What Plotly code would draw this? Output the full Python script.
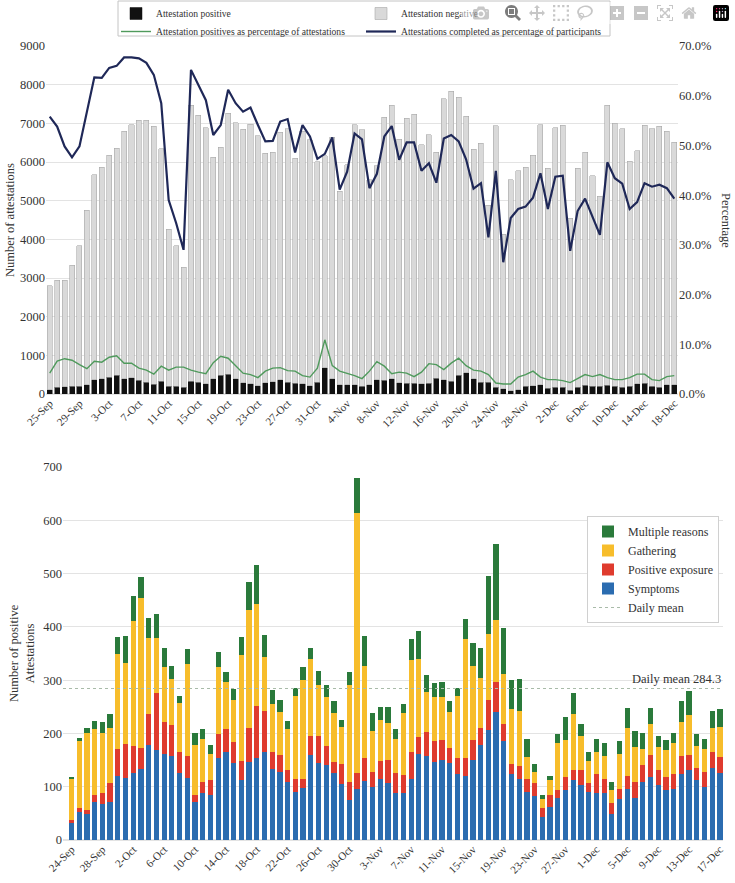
import pandas as pd
import plotly.graph_objects as go

# ---- top panel: daily attestations (25-Sep .. 18-Dec) ----
top_days = pd.date_range('2020-09-25', periods=85).strftime('%-d-%b').tolist()

att_positive = [110, 170, 190, 205, 205, 235, 370, 390, 430, 480, 395, 420, 360, 310, 250, 335, 200, 200, 170, 335,
                300, 265, 390, 480, 505, 390, 285, 265, 215, 285, 320, 370, 300, 275, 260, 215, 300, 680, 390, 240,
                240, 240, 200, 240, 370, 360, 390, 295, 275, 275, 260, 275, 405, 370, 335, 490, 550, 390, 300, 300,
                170, 140, 80, 110, 200, 215, 240, 155, 170, 170, 95, 170, 225, 200, 200, 225, 200, 170, 200, 260,
                275, 200, 180, 240, 240]
att_negative = [2690, 2770, 2750, 3125, 3635, 4515, 5300, 5480, 5750, 5880, 6405, 6540, 6720, 6770, 6670, 6005, 4060,
                3640, 3110, 7135, 6910, 6615, 5730, 5900, 6755, 6630, 6565, 6715, 6465, 5945, 5930, 6400, 6560, 5825,
                6540, 6355, 5710, 5480, 6250, 5000, 5690, 6720, 6630, 5300, 5530, 6800, 7080, 6295, 6855, 6965, 6180,
                6425, 5845, 7270, 7495, 7180, 6630, 5940, 6190, 4580, 6770, 3990, 5460, 5660, 5660, 5955, 6720, 5685,
                6710, 6780, 4455, 5670, 6025, 5450, 4910, 7245, 6800, 6690, 5820, 6030, 6675, 6660, 6740, 6560, 6270]
pct_positive = [4.2, 6.6, 7.1, 6.8, 5.9, 5.1, 6.6, 6.4, 7.4, 7.7, 6.2, 6.2, 5.2, 4.8, 4.0, 5.6, 4.8, 5.4, 5.4, 4.8,
                4.4, 4.1, 6.3, 7.6, 7.2, 5.6, 4.2, 3.9, 3.3, 4.6, 5.2, 5.3, 4.7, 4.6, 3.7, 3.4, 5.2, 10.9, 5.7, 4.6,
                4.2, 3.7, 3.1, 4.6, 6.5, 5.6, 4.1, 4.4, 4.2, 3.5, 4.4, 6.1, 5.9, 4.9, 6.2, 7.2, 5.7, 4.8, 4.6, 3.9,
                2.2, 2.0, 2.0, 3.4, 3.9, 4.6, 3.4, 2.9, 2.9, 2.7, 2.3, 3.1, 3.9, 3.5, 3.9, 3.3, 2.9, 2.9, 3.3, 4.0,
                4.0, 2.9, 2.7, 3.5, 3.7]
pct_completed = [55.8, 53.8, 49.8, 47.6, 49.8, 56.5, 63.7, 63.6, 65.6, 66.0, 67.7, 67.7, 67.5, 66.6, 64.2, 58.5, 39.0,
                 34.4, 29.0, 65.2, 62.2, 59.1, 52.1, 54.1, 61.2, 58.5, 56.8, 57.6, 54.1, 50.8, 50.9, 54.8, 55.3, 48.6,
                 54.1, 51.8, 47.3, 48.3, 51.6, 41.1, 44.7, 52.4, 51.2, 41.4, 44.3, 51.8, 53.9, 47.1, 50.6, 50.6, 44.9,
                 46.4, 42.5, 51.4, 52.1, 50.8, 47.2, 41.3, 42.4, 31.5, 44.9, 26.5, 35.4, 37.2, 37.7, 39.5, 44.4, 37.2,
                 43.7, 43.9, 28.8, 36.8, 39.3, 35.7, 32.0, 46.6, 43.4, 42.3, 37.2, 38.6, 42.4, 41.7, 42.1, 41.4, 39.3]

# ---- bottom panel: positive attestations by reason (24-Sep .. 17-Dec) ----
bot_days = pd.date_range('2020-09-24', periods=85).strftime('%-d-%b').tolist()

symptoms = [32, 52, 48, 71, 68, 71, 121, 116, 126, 133, 179, 168, 162, 157, 126, 116, 71, 88, 85, 154,
            166, 144, 113, 146, 153, 166, 134, 128, 109, 90, 98, 159, 144, 141, 126, 106, 76, 96, 110, 99,
            114, 107, 88, 88, 114, 162, 157, 147, 151, 144, 124, 121, 151, 178, 207, 240, 185, 123, 114, 90,
            83, 43, 62, 78, 94, 112, 104, 90, 88, 88, 49, 77, 96, 79, 109, 119, 103, 93, 96, 124,
            132, 112, 99, 136, 126]
positive_exposure = [6, 8, 8, 14, 20, 36, 50, 65, 50, 40, 58, 107, 59, 58, 40, 41, 14, 21, 28, 45,
                     42, 40, 36, 64, 98, 77, 31, 32, 23, 25, 17, 37, 52, 36, 20, 37, 33, 30, 43, 29,
                     35, 44, 38, 34, 52, 32, 46, 38, 36, 29, 29, 32, 36, 33, 56, 56, 33, 20, 24, 24,
                     24, 18, 23, 16, 25, 20, 27, 17, 36, 26, 20, 19, 25, 29, 32, 41, 29, 26, 28, 33,
                     28, 24, 29, 29, 29]
gathering = [76, 125, 145, 123, 113, 104, 179, 152, 235, 281, 143, 105, 104, 87, 92, 173, 94, 80, 49, 126,
             88, 78, 199, 222, 192, 100, 91, 81, 77, 155, 186, 144, 94, 91, 92, 70, 181, 488, 174, 76,
             76, 69, 64, 116, 172, 146, 75, 83, 81, 68, 118, 224, 140, 93, 124, 117, 94, 103, 105, 41,
             21, 16, 27, 88, 69, 105, 65, 41, 42, 43, 25, 66, 89, 66, 30, 58, 42, 49, 58, 64,
             74, 40, 43, 45, 58]
multiple_reasons = [5, 6, 9, 16, 20, 25, 31, 49, 47, 40, 37, 45, 36, 24, 12, 28, 21, 19, 17, 28,
                    19, 21, 33, 53, 73, 41, 25, 21, 15, 16, 23, 20, 28, 23, 22, 12, 26, 65, 56, 34,
                    24, 29, 19, 17, 40, 52, 32, 27, 28, 19, 14, 38, 43, 56, 108, 142, 86, 54, 59, 34,
                    15, 8, 9, 16, 42, 39, 22, 18, 24, 25, 15, 23, 37, 30, 30, 29, 22, 19, 19, 40,
                    45, 22, 18, 33, 33]
daily_mean = 284.3

FONT = 'Liberation Serif'
GRID = '#e3e3e3'
TXT = '#333333'

fig = go.Figure()

# top legend is split over two single-row legends framed by one box
fig.add_trace(go.Bar(x=top_days, y=att_positive, name='Attestation positive',
                     marker=dict(color='#111111', line=dict(color='#111111', width=0.5)),
                     xaxis='x', yaxis='y', legend='legend'))
fig.add_trace(go.Bar(x=top_days, y=att_negative, name='Attestation negative',
                     marker=dict(color='#d9d9d9', line=dict(color='#a8a8a8', width=0.6)),
                     xaxis='x', yaxis='y', legend='legend'))
fig.add_trace(go.Scatter(x=top_days, y=pct_positive, mode='lines',
                         name='Attestation positives as percentage of attestations',
                         line=dict(color='#4f9a5c', width=1.4), xaxis='x', yaxis='y2', legend='legend3'))
fig.add_trace(go.Scatter(x=top_days, y=pct_completed, mode='lines',
                         name='Attestations completed as percentage of participants',
                         line=dict(color='#1f2858', width=2.2), xaxis='x', yaxis='y2', legend='legend3'))

reasons = [('Symptoms', symptoms, '#2b6cb0', 4),
           ('Positive exposure', positive_exposure, '#df3b2e', 3),
           ('Gathering', gathering, '#f7bd2b', 2),
           ('Multiple reasons', multiple_reasons, '#2a7a3b', 1)]
for name, vals, col, rank in reasons:
    fig.add_trace(go.Bar(x=bot_days, y=vals, name=name, marker=dict(color=col, line=dict(width=0)),
                         xaxis='x2', yaxis='y3', legend='legend2', legendrank=rank))
fig.add_trace(go.Scatter(x=[None], y=[None], mode='lines', name='Daily mean',
                         line=dict(color='#a9bba9', width=1.2, dash='dot'),
                         xaxis='x2', yaxis='y3', legend='legend2', legendrank=5))

fig.add_shape(type='line', xref='x2 domain', yref='y3', x0=0, x1=1, y0=daily_mean, y1=daily_mean,
              line=dict(color='#a9bba9', width=1.2, dash='dot'))
fig.add_annotation(xref='x2 domain', yref='y3', x=1, y=daily_mean, text=f'Daily mean {daily_mean}',
                   showarrow=False, xanchor='right', yanchor='bottom', yshift=1,
                   font=dict(size=12.5, color=TXT, family=FONT))

# frame around the top legend
fig.add_shape(type='rect', xref='paper', yref='paper', x0=118 / 735, x1=610 / 735,
              y0=1 - 36 / 883, y1=1 - 1 / 883, line=dict(color='#c4c4c4', width=1), layer='above')

# axis titles
title_font = dict(size=12.5, color=TXT, family=FONT)
fig.add_annotation(xref='paper', yref='paper', x=10 / 735, y=1 - 220 / 883, text='Number of attestations',
                   textangle=-90, showarrow=False, xanchor='center', yanchor='middle', font=title_font)
fig.add_annotation(xref='paper', yref='paper', x=726 / 735, y=1 - 220 / 883, text='Percentage',
                   textangle=90, showarrow=False, xanchor='center', yanchor='middle', font=title_font)
fig.add_annotation(xref='paper', yref='paper', x=22 / 735, y=1 - 653 / 883,
                   text='Number of positive<br>Attestations',
                   textangle=-90, showarrow=False, xanchor='center', yanchor='middle', font=title_font)

tick_font = dict(size=12.5, color=TXT, family=FONT)
xtick_font = dict(size=11, color=TXT, family=FONT)
top_legend = dict(xanchor='left', yanchor='top', orientation='h', traceorder='normal', entrywidth=200,
                  borderwidth=0, bgcolor='rgba(0,0,0,0)', font=dict(size=9.6, color=TXT, family=FONT))
fig.update_layout(
    width=735, height=883,
    margin=dict(l=0, r=0, t=0, b=0, autoexpand=False),
    paper_bgcolor='white', plot_bgcolor='white',
    font=dict(family=FONT, color=TXT),
    barmode='stack', bargap=0.32,
    xaxis=dict(domain=[46 / 735, 678 / 735], anchor='y', type='category', range=[-0.5, 84.5],
               tickmode='array', tickvals=top_days[::4], ticktext=top_days[::4], tickangle=-45,
               tickfont=xtick_font, showgrid=False, ticks='', automargin=False),
    yaxis=dict(domain=[1 - 394 / 883, 1 - 46 / 883], range=[0, 9000], dtick=1000,
               gridcolor=GRID, tickfont=tick_font, zeroline=True, zerolinecolor=GRID, automargin=False),
    yaxis2=dict(overlaying='y', side='right', range=[0, 70], dtick=10, tickformat='.1f', ticksuffix='%',
                showgrid=False, tickfont=tick_font, zeroline=False, anchor='x', automargin=False),
    xaxis2=dict(domain=[63 / 735, 723 / 735], anchor='y3', type='category', range=[-1.1, 84.4],
                tickmode='array', tickvals=bot_days[::4], ticktext=bot_days[::4], tickangle=-45,
                tickfont=xtick_font, showgrid=False, ticks='', automargin=False),
    yaxis3=dict(domain=[1 - 840 / 883, 1 - 467 / 883], anchor='x2', range=[0, 700], dtick=100,
                gridcolor=GRID, tickfont=tick_font, zeroline=True, zerolinecolor=GRID, automargin=False),
    legend=dict(top_legend, x=116 / 735, y=1 + 1 / 883),
    legend3=dict(top_legend, x=116 / 735, y=1 - 17 / 883),
    legend2=dict(x=587 / 735, y=1 - 516 / 883, xanchor='left', yanchor='top', traceorder='normal',
                 bordercolor='#d0d0d0', borderwidth=1, bgcolor='white',
                 font=dict(size=12, color=TXT, family=FONT)),
)

# the page's default 8px body margin pushes the 735x883 figure past the window edge
fig.write_html('out.html', post_script="document.body.style.margin='0';document.body.style.overflow='hidden';")
